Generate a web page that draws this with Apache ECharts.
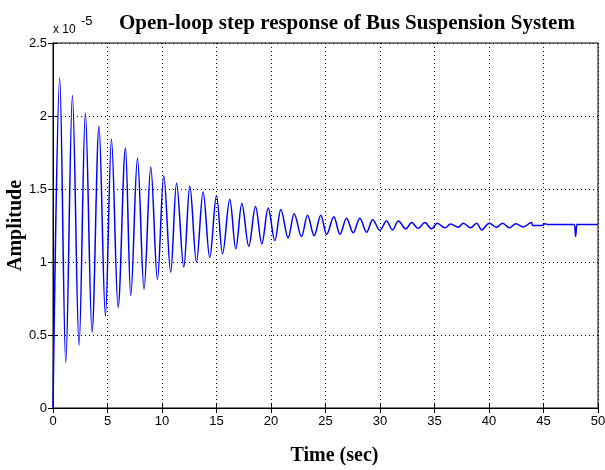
<!DOCTYPE html>
<html>
<head>
<meta charset="utf-8">
<script src="https://cdn.jsdelivr.net/npm/echarts@6/dist/echarts.min.js"></script>
<style>
  html, body { margin: 0; padding: 0; background: #fff; }
  #chart { width: 605px; height: 470px; }
</style>
</head>
<body>
<div id="chart"></div>
<script>
// time (sec) of each read-off point: peaks / troughs of the response
const timeSec = [
  0, 0.615, 1.17, 1.78, 2.39, 2.97, 3.58, 4.22, 4.81, 5.36, 5.97,
  6.65, 7.13, 7.75, 8.35, 8.97, 9.58, 10.16, 10.8, 11.33, 12.0,
  12.55, 13.16, 13.77, 14.38, 15.0, 15.55, 16.22, 16.77, 17.32, 17.96,
  18.58, 19.16, 19.74, 20.35, 20.9, 21.57, 22.12, 22.8, 23.35, 23.96,
  24.57, 25.1, 25.77, 26.32, 26.93, 27.54, 28.15, 28.77, 29.32, 29.99,
  30.6, 31.15, 31.67, 32.38, 32.9, 33.5, 34.12, 34.73, 35.25, 35.95,
  36.48, 37.18, 37.64, 38.31, 38.87, 39.32, 40.02, 40.7, 41.25, 41.86,
  42.47, 43.14, 43.91, 44.0, 44.9, 45.13, 45.4, 47.85, 47.95, 48.05, 50
];
// amplitude, in units of 1e-5
const amplitude = [
  0, 2.26, 0.31, 2.14, 0.43, 2.02, 0.52, 1.93, 0.63, 1.84, 0.69,
  1.78, 0.77, 1.71, 0.815, 1.65, 0.88, 1.59, 0.93, 1.54, 0.965,
  1.52, 1.0, 1.48, 1.03, 1.456, 1.056, 1.43, 1.09, 1.40, 1.108,
  1.38, 1.124, 1.37, 1.147, 1.36, 1.165, 1.33, 1.174, 1.32, 1.18,
  1.32, 1.19, 1.31, 1.19, 1.30, 1.20, 1.30, 1.204, 1.29, 1.216,
  1.28, 1.22, 1.28, 1.227, 1.27, 1.23, 1.27, 1.227, 1.266, 1.234,
  1.26, 1.238, 1.266, 1.234, 1.266, 1.22, 1.266, 1.238, 1.266, 1.234,
  1.262, 1.24, 1.27, 1.25, 1.25, 1.262, 1.257, 1.257, 1.174, 1.257, 1.257
];
const xTicks = [0, 5, 10, 15, 20, 25, 30, 35, 40, 45, 50];
const yTicks = [0, 0.5, 1, 1.5, 2, 2.5];

const points = timeSec.map((t, i) => [t, amplitude[i]]);

const chart = echarts.init(document.getElementById('chart'));

const sans = 'Liberation Sans';
const serif = 'Liberation Serif';

const tickStyle = { show: true, inside: true, length: 5, lineStyle: { color: '#000' } };
const dotted = { show: true, lineStyle: { color: '#000', type: [1, 3], width: 1 } };

chart.setOption({
  animation: false,
  backgroundColor: '#fff',
  title: {
    text: 'Open-loop step response of Bus Suspension System',
    left: 114, top: 8,
    textStyle: { fontFamily: serif, fontWeight: 'bold', fontSize: 21, color: '#000' }
  },
  graphic: [
    { type: 'text', left: 53, top: 24, style: { text: 'x 10', font: '12px ' + sans, fill: '#000' } },
    { type: 'text', left: 81, top: 15, style: { text: '-5', font: '13px ' + sans, fill: '#000' } }
  ],
  grid: {
    left: 53, right: 7, top: 43, bottom: 62,
    outerBoundsMode: 'none', containLabel: false,
    show: true, borderColor: '#000', borderWidth: 1
  },
  xAxis: [{
    type: 'value', min: xTicks[0], max: xTicks[xTicks.length - 1], interval: 5,
    axisLine: { show: true, lineStyle: { color: '#000' } },
    axisTick: tickStyle,
    axisLabel: { color: '#000', fontFamily: sans, fontSize: 13, margin: 7 },
    splitLine: dotted,
    name: 'Time (sec)', nameLocation: 'middle', nameGap: 38, nameMoveOverlap: false,
    nameTextStyle: { fontFamily: serif, fontWeight: 'bold', fontSize: 20, color: '#000', padding: [0, 0, 0, 18] }
  }, {
    type: 'value', position: 'top', min: xTicks[0], max: xTicks[xTicks.length - 1], interval: 5,
    axisLine: { show: true, lineStyle: { color: '#000' } },
    axisTick: tickStyle, axisLabel: { show: false }, splitLine: { show: false }
  }],
  yAxis: [{
    type: 'value', min: yTicks[0], max: yTicks[yTicks.length - 1], interval: 0.5,
    axisLine: { show: true, lineStyle: { color: '#000' } },
    axisTick: tickStyle,
    axisLabel: { color: '#000', fontFamily: sans, fontSize: 13, margin: 6 },
    splitLine: dotted,
    name: 'Amplitude', nameLocation: 'middle', nameGap: 27, nameMoveOverlap: false,
    nameTextStyle: { fontFamily: serif, fontWeight: 'bold', fontSize: 20, color: '#000' }
  }, {
    type: 'value', position: 'right', min: yTicks[0], max: yTicks[yTicks.length - 1], interval: 0.5,
    axisLine: { show: true, lineStyle: { color: '#000' } },
    axisTick: tickStyle, axisLabel: { show: false }, splitLine: { show: false }
  }],
  series: [{
    type: 'line',
    data: points,
    showSymbol: false,
    smooth: 0.35,
    smoothMonotone: 'x',
    lineStyle: { color: '#0000ff', width: 1.5 },
    xAxisIndex: 0, yAxisIndex: 0
  }]
});
</script>
</body>
</html>
